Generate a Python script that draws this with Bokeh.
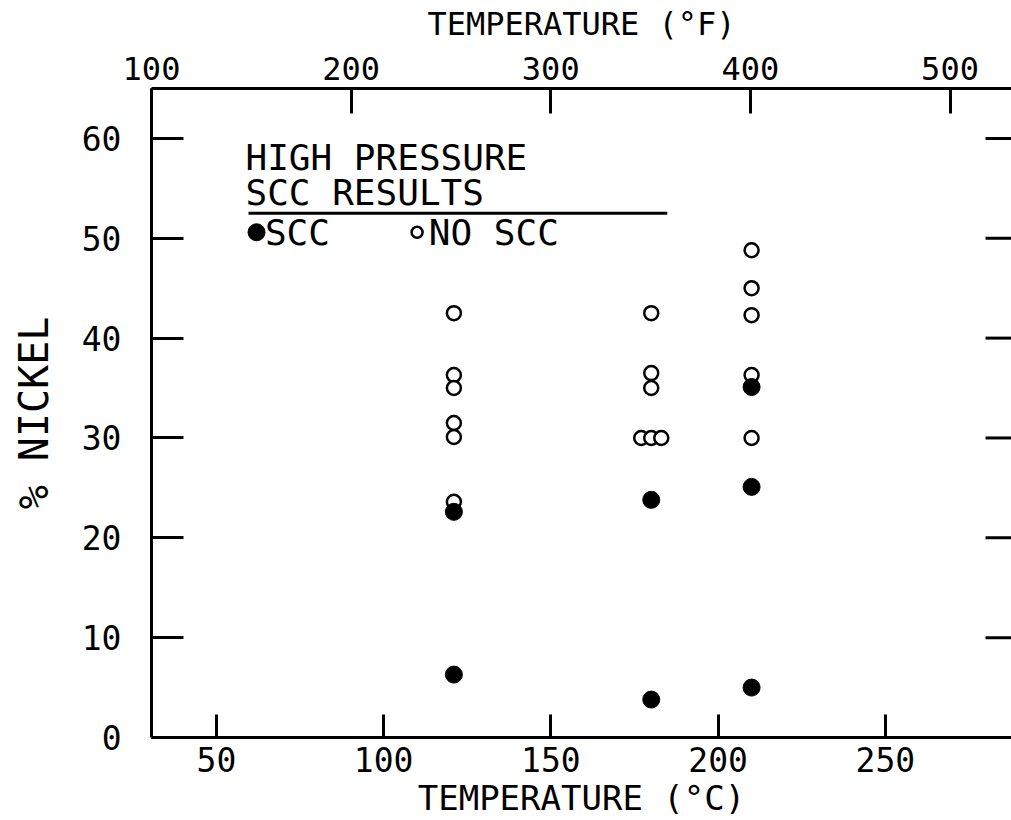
from bokeh.plotting import figure
from bokeh.models import Range1d, LinearAxis, FixedTicker
from bokeh.core.properties import value
from bokeh.embed import file_html
from bokeh.resources import INLINE

# ---- data ----
scc_temp = [121, 121, 180, 180, 210, 210, 210]
scc_ni = [22.6, 6.3, 23.8, 3.8, 35.1, 25.1, 5.0]

noscc_temp = [121, 121, 121, 121, 121, 121,
              180, 180, 180, 177, 180, 183,
              210, 210, 210, 210, 210]
noscc_ni = [42.5, 36.3, 35.0, 31.5, 30.1, 23.6,
            42.5, 36.5, 35.0, 30.0, 30.0, 30.0,
            48.8, 45.0, 42.3, 36.3, 30.0]

c_ticks = [50, 100, 150, 200, 250]
f_ticks = [100, 200, 300, 400, 500]
y_ticks = [0, 10, 20, 30, 40, 50, 60]

legend_title = ["HIGH PRESSURE", "SCC RESULTS"]
legend_title_x = [58.7, 58.7]
legend_title_y = [58.1, 54.6]
legend_items = ["SCC", "NO SCC"]
legend_item_x = [64.5, 113.5]
legend_item_y = [50.6, 50.6]
legend_marker_x = [62.0, 110.0]
legend_rule_x = [59.6, 184.8]
legend_rule_y = 52.5

FONT = "DejaVu Sans Mono"
X0, X1 = 30.6, 287.7
FRAME_W = 860

p = figure(width=1011, height=820, output_backend="svg", toolbar_location=None,
           x_range=Range1d(X0, X1), y_range=Range1d(0, 65),
           min_border_left=151, min_border_right=0, min_border_top=88,
           min_border_bottom=82, x_axis_location="below")
p.outline_line_color = None
p.xgrid.grid_line_color = None
p.ygrid.grid_line_color = None
p.background_fill_color = "white"
p.border_fill_color = "white"

def style(ax, tick_in, label_size):
    ax.axis_line_color = "black"
    ax.axis_line_width = 3
    ax.major_tick_in = tick_in
    ax.major_tick_out = 0
    ax.major_tick_line_width = 3
    ax.major_tick_line_color = "black"
    ax.minor_tick_line_color = None
    ax.major_label_text_font = FONT
    ax.major_label_text_font_size = label_size
    ax.major_label_text_color = "black"
    ax.axis_label_text_font = FONT
    ax.axis_label_text_font_style = "normal"
    ax.axis_label_text_color = "black"

# bottom axis (C)
xa = p.xaxis[0]
xa.ticker = FixedTicker(ticks=c_ticks)
xa.axis_label = "TEMPERATURE (°C)"
style(xa, 23, "33px")
xa.axis_label_text_font_size = "34px"
xa.major_label_standoff = 9
xa.axis_label_standoff = 3

# left axis
ya = p.yaxis[0]
ya.ticker = FixedTicker(ticks=y_ticks)
ya.axis_label = "% NICKEL"
style(ya, 32, "33px")
ya.axis_label_text_font_size = "40px"
ya.major_label_standoff = 30
ya.axis_label_standoff = 22

# top axis (F)
p.extra_x_ranges = {"f": Range1d(100.0, 530.8)}
ta = LinearAxis(x_range_name="f", ticker=FixedTicker(ticks=f_ticks),
                axis_label="TEMPERATURE (°F)")
style(ta, 25, "32px")
ta.axis_label_text_font_size = "32px"
ta.major_label_standoff = 9
ta.axis_label_standoff = 11
p.add_layout(ta, "above")

# right-hand inward ticks (no labels), 26 px long
tick_len = 26 * (X1 - X0) / FRAME_W
rt = y_ticks[1:]
p.segment(x0=[X1 - tick_len] * len(rt), y0=rt, x1=[X1] * len(rt), y1=rt,
          line_color="black", line_width=3)

# data
p.scatter(noscc_temp, noscc_ni, marker="circle", size=14, fill_color="white",
          line_color="black", line_width=2.5)
p.scatter(scc_temp, scc_ni, marker="circle", size=17, fill_color="black",
          line_color="black")

# legend
p.text(legend_title_x, legend_title_y, text=legend_title, text_font=value(FONT),
       text_font_size="36px", text_baseline="middle", text_color="black")
p.segment(x0=[legend_rule_x[0]], y0=[legend_rule_y], x1=[legend_rule_x[1]],
          y1=[legend_rule_y], line_color="black", line_width=3)
p.scatter([legend_marker_x[0]], [legend_item_y[0]], marker="circle", size=17,
          fill_color="black", line_color="black")
p.scatter([legend_marker_x[1]], [legend_item_y[1]], marker="circle", size=11,
          fill_color="white", line_color="black", line_width=2.5)
p.text(legend_item_x, legend_item_y, text=legend_items, text_font=value(FONT),
       text_font_size="36px", text_baseline="middle", text_color="black")

open("out.html", "w").write(file_html(p, INLINE))
